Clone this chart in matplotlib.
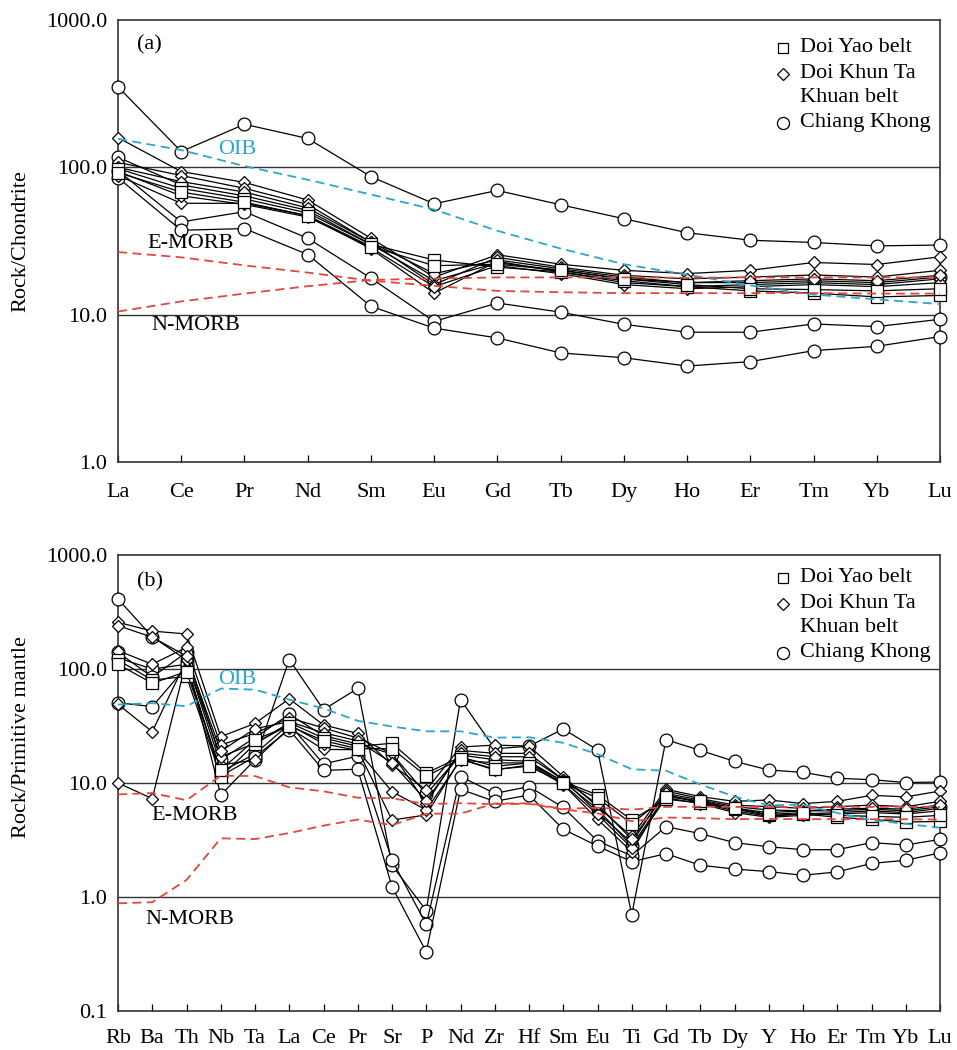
import matplotlib
matplotlib.use("Agg")
import matplotlib.pyplot as plt
from matplotlib.lines import Line2D

plt.rcParams['font.family'] = ['Liberation Serif', 'DejaVu Serif']

# ---- panel (a): chondrite-normalised REE ----
ree = ['La', 'Ce', 'Pr', 'Nd', 'Sm', 'Eu', 'Gd', 'Tb', 'Dy', 'Ho', 'Er', 'Tm', 'Yb', 'Lu']

oib_a = [156, 131, 102, 82.4, 65.4, 51.7, 37.1, 28.1, 22.0, 18.7, 15.8, 13.7, 12.7, 11.8]
emorb_a = [26.6, 24.5, 21.6, 19.3, 17.0, 15.7, 14.5, 14.2, 14.0, 14.0, 14.0, 14.0, 13.9, 13.9]
nmorb_a = [10.5, 12.3, 13.9, 15.6, 17.2, 17.6, 17.9, 17.9, 17.9, 17.8, 17.9, 17.9, 17.9, 17.9]

doi_yao_a = [
    [98, 72, 61, 49, 30, 23.5, 21, 19.5, 17, 15.5, 14.5, 14, 13.2, 13.5],
    [92, 68, 58, 47, 29, 21.5, 22, 20, 17.5, 16, 15, 14.8, 14.5, 15],
]
doi_khun_a = [
    [159, 93.6, 79, 60, 33, 18, 25.5, 22, 20, 19, 20, 22.6, 21.9, 24.7],
    [108, 88, 72, 56, 31, 16, 24.5, 21, 18.5, 17.5, 18, 18.6, 18, 20],
    [88, 57, 57, 47, 28, 14, 23, 19.5, 16.5, 15.5, 16, 16.5, 16, 17.5],
    [94, 64, 56, 46, 28.5, 15.5, 21.5, 19, 16, 15, 15.5, 16, 15.5, 16.5],
    [100, 80, 68, 53, 31, 19, 23.5, 20.5, 18, 16.5, 17, 17.5, 17, 18.5],
]
chiang_a = [
    [352, 128, 196, 157, 86.5, 56.6, 69.7, 55.7, 44.8, 36, 32, 30.9, 29.3, 29.7],
    [95, 42.6, 50, 33, 17.7, 9.0, 12, 10.4, 8.6, 7.6, 7.6, 8.65, 8.3, 9.3],
    [85, 37.4, 38.4, 25.6, 11.4, 8.1, 6.95, 5.5, 5.1, 4.48, 4.8, 5.7, 6.1, 7.1],
    [117, 76, 64, 51, 30, 17, 22.5, 20, 17.5, 16.5, 16.5, 17, 16.5, 18],
]

# ---- panel (b): primitive-mantle-normalised spider diagram ----
spider = ['Rb', 'Ba', 'Th', 'Nb', 'Ta', 'La', 'Ce', 'Pr', 'Sr', 'P', 'Nd', 'Zr', 'Hf',
          'Sm', 'Eu', 'Ti', 'Gd', 'Tb', 'Dy', 'Y', 'Ho', 'Er', 'Tm', 'Yb', 'Lu']

oib_b = [48.8, 50.1, 47.1, 67.3, 65.9, 53.9, 45.1, 35.1, 31.3, 28.4, 28.4, 25.0, 25.2,
         22.5, 17.9, 13.2, 12.8, 9.72, 7.60, 6.37, 6.46, 5.46, 4.73, 4.38, 4.05]
emorb_b = [7.94, 8.16, 7.06, 11.6, 11.5, 9.17, 8.45, 7.43, 7.35, 6.53, 6.65, 6.52, 6.57,
           5.86, 5.42, 4.62, 4.98, 4.91, 4.82, 4.84, 4.82, 4.81, 4.81, 4.81, 4.78]
nmorb_b = [0.88, 0.90, 1.41, 3.27, 3.22, 3.64, 4.23, 4.78, 4.27, 5.37, 5.39, 6.61, 6.63,
           5.92, 6.07, 5.85, 6.17, 6.20, 6.17, 6.15, 6.16, 6.19, 6.16, 6.19, 6.15]

doi_yao_b = [
    [120, 80, 86, 11.4, 22, 33.8, 24.8, 21, 22.3, 12.2, 16.9, 14, 15,
     10.3, 7.85, 4.73, 7.2, 6.7, 5.9, 5.2, 5.35, 5.0, 4.8, 4.55, 4.6],
    [110, 75, 95, 13, 24, 31.7, 23.5, 20, 20, 11.5, 16.2, 13.2, 14,
     10, 7.4, 4.4, 7.6, 6.9, 6.0, 5.3, 5.5, 5.2, 5.1, 5.0, 5.2],
]
doi_khun_b = [
    [257, 215, 203, 25.5, 33.3, 54.8, 32.3, 27.2, 14.4, 8.7, 20.7, 21.5, 21.1,
     11.4, 6.2, 3.4, 8.8, 7.6, 6.9, 7.1, 6.6, 6.9, 7.8, 7.55, 8.5],
    [145, 110, 155, 21.5, 27.3, 37.3, 30.4, 24.8, 18.2, 6.6, 19.3, 18.2, 18.2,
     10.7, 5.5, 3.0, 8.5, 7.3, 6.4, 6.2, 6.0, 6.2, 6.4, 6.2, 6.9],
    [49, 28.2, 120, 14.4, 15.9, 30.4, 19.7, 19.6, 4.73, 5.25, 16.2, 13, 14.4,
     9.7, 4.8, 2.5, 7.9, 6.7, 5.7, 5.1, 5.35, 5.5, 5.7, 5.5, 6.0],
    [10, 7.3, 120, 17, 22.3, 32.4, 22.1, 19.3, 8.4, 5.8, 15.9, 15, 15,
     9.8, 5.3, 2.7, 7.4, 6.6, 5.5, 5.0, 5.2, 5.35, 5.5, 5.35, 5.7],
    [240, 190, 130, 19, 30, 34.5, 27.6, 23.4, 15, 7, 18.3, 17, 17,
     10.7, 6.5, 3.2, 8.1, 7.1, 6.2, 5.8, 5.7, 5.9, 6.0, 5.9, 6.4],
]
chiang_b = [
    [411, 192, 120, 7.85, 16, 121, 44, 67.5, 1.9, 0.76, 54, 20, 21,
     29.8, 19.5, 0.7, 24, 19.3, 15.5, 13, 12.4, 11, 10.7, 10.1, 10.2],
    [50.6, 46.8, 105, 12.5, 18, 32.8, 14.7, 17.2, 2.11, 0.575, 11.4, 8.1, 9.3,
     6.1, 3.1, 2.3, 4.14, 3.6, 3.0, 2.76, 2.6, 2.6, 3.0, 2.86, 3.2],
    [125, 100, 110, 11.5, 17, 29.3, 12.9, 13.2, 1.23, 0.33, 8.8, 6.9, 7.85,
     3.93, 2.8, 2.04, 2.4, 1.9, 1.76, 1.67, 1.55, 1.66, 1.97, 2.1, 2.44],
    [140, 85, 140, 16, 25, 40, 26, 22, 18, 8, 17.6, 16, 15.5,
     10.3, 5.9, 2.8, 7.8, 6.9, 6.0, 5.5, 5.7, 5.7, 5.9, 5.7, 6.2],
]

legend_names = ['Doi Yao belt', 'Doi Khun Ta', 'Khuan belt', 'Chiang Khong']
legend_markers = ['s', 'D', None, 'o']

CYAN = '#2ba6cf'
RED = '#e2463c'
FS = 16
W, H = 957, 1050
MARKERS = {'o': 9.2, 'D': 6.6, 's': 8.0}


def draw_samples(ax, x, groups):
    for rows, marker in groups:
        for row in rows:
            ax.plot(x, row, color='black', lw=0.9, marker=marker, ms=MARKERS[marker],
                    mfc='white', mec='black', mew=0.9, clip_on=False, zorder=3)


def style_axes(ax, labels, ylow, yticks, yticklabels, xpad):
    n = len(labels)
    ax.set_yscale('log')
    ax.set_xlim(0, n - 1)
    ax.set_ylim(ylow, 1000)
    ax.set_xticks(range(n))
    ax.set_xticklabels(labels)
    ax.set_yticks(yticks)
    ax.set_yticklabels(yticklabels)
    ax.minorticks_off()
    ax.tick_params(axis='both', direction='in', labelsize=FS, length=5, width=0.9)
    ax.tick_params(axis='x', pad=xpad)
    ax.tick_params(axis='y', pad=8, length=0)
    for t in yticks[1:-1]:
        ax.axhline(t, color='#333333', lw=1.0, zorder=1)
    for s in ax.spines.values():
        s.set_linewidth(1.2)
        s.set_color('#333333')


def px_text(x, y, s, **kw):
    # text at a figure pixel position measured from the top-left corner
    fig.text(x / W, 1 - y / H, s, fontsize=FS, va='center', ha='left', **kw)


def draw_legend(y0):
    ys = [y0, y0 + 26, y0 + 50, y0 + 75]
    for name, mk, y in zip(legend_names, legend_markers, ys):
        if mk is not None:
            fig.add_artist(Line2D([783 / W], [1 - y / H], transform=fig.transFigure,
                                  ls='none', marker=mk, ms=MARKERS[mk] - 0.5,
                                  mfc='white', mec='black', mew=0.9))
        px_text(800, y, name)


fig = plt.figure(figsize=(W / 100, H / 100), dpi=100)
ax1 = fig.add_axes([118 / W, 1 - 462 / H, 822 / W, 442 / H])
ax2 = fig.add_axes([118 / W, 1 - 1011 / H, 822 / W, 456 / H])

# panel (a)
xa = list(range(len(ree)))
for ref, col in [(oib_a, CYAN), (emorb_a, RED), (nmorb_a, RED)]:
    ax1.plot(xa, ref, color=col, lw=1.3, ls=(0, (5, 3)), zorder=4)
draw_samples(ax1, xa, [(chiang_a, 'o'), (doi_khun_a, 'D'), (doi_yao_a, 's')])
style_axes(ax1, ree, 1, [1, 10, 100, 1000], ['1.0', '10.0', '100.0', '1000.0'], 15)
ax1.set_ylabel('Rock/Chondrite', fontsize=FS)
ax1.yaxis.set_label_coords(-0.106, 0.5)

# panel (b)
xb = list(range(len(spider)))
for ref, col in [(oib_b, CYAN), (emorb_b, RED), (nmorb_b, RED)]:
    ax2.plot(xb, ref, color=col, lw=1.3, ls=(0, (5, 3)), zorder=4)
draw_samples(ax2, xb, [(chiang_b, 'o'), (doi_khun_b, 'D'), (doi_yao_b, 's')])
style_axes(ax2, spider, 0.1, [0.1, 1, 10, 100, 1000],
           ['0.1', '1.0', '10.0', '100.0', '1000.0'], 13)
ax2.set_ylabel('Rock/Primitive mantle', fontsize=FS)
ax2.yaxis.set_label_coords(-0.106, 0.6)

px_text(137, 45, '(a)')
px_text(218, 149, 'OIB', color=CYAN)
px_text(147, 243, 'E-MORB')
px_text(151, 325, 'N-MORB')

px_text(137, 582, '(b)')
px_text(218, 680, 'OIB', color=CYAN)
px_text(151, 815, 'E-MORB')
px_text(145, 920, 'N-MORB')

draw_legend(48)
draw_legend(578)

fig.savefig('out.png', dpi=100)
